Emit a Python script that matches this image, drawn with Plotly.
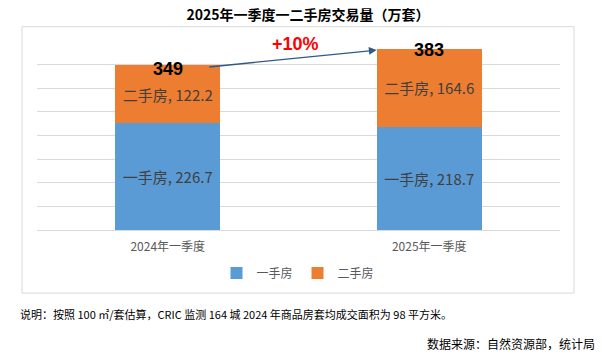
import plotly.graph_objects as go

categories = ["2024年一季度", "2025年一季度"]
series_names = ["一手房", "二手房"]
new_home = [226.7, 218.7]
second_home = [122.2, 164.6]
totals = [349, 383]
title_text = "2025年一季度一二手房交易量（万套）"
note_text = "说明：按照 100 ㎡/套估算，CRIC 监测 164 城 2024 年商品房套均成交面积为 98 平方米。"
source_text = "数据来源：自然资源部，统计局"

colors = ["#5B9BD5", "#ED7D31"]
cjk = "Noto Sans CJK SC, sans-serif"

fig = go.Figure()
for name, vals, col in zip(series_names, [new_home, second_home], colors):
    fig.add_trace(go.Bar(
        x=categories, y=vals, name=name, marker=dict(color=col, line=dict(width=0)),
        text=[f"{name}, {v}" for v in vals], textposition="inside",
        insidetextanchor="middle", textangle=0,
        textfont=dict(family=cjk, size=15, color="#404040"),
        hoverinfo="skip",
    ))

# plot-area pixel geometry (for placing paper-referenced items)
L, R, T, B = 37, 560, 41.3, 230
W, H = R - L, B - T
px = lambda x: (x - L) / W
py = lambda y: (B - y) / H

ann = []
for cat, tot, ys in zip(categories, totals, [-4, -1]):
    ann.append(dict(x=cat, y=tot, xref="x", yref="y", text=f"<b>{tot}</b>", showarrow=False,
                    yshift=ys, font=dict(family="Liberation Sans, Arial", size=18, color="#000000")))

# growth arrow
pct = round((totals[1] / totals[0] - 1) * 100)
ann.append(dict(x=0.799, y=totals[1] - 2.2, ax=0.153, ay=totals[0] - 4.3, xref="x", yref="y",
                axref="x", ayref="y", showarrow=True, arrowhead=2, arrowsize=1.2, arrowwidth=1.3,
                arrowcolor="#2E5A84", text="", standoff=0))
ann.append(dict(x=0.487, y=393, xref="x", yref="y", text=f"<b>+{pct}%</b>", showarrow=False,
                font=dict(family="Liberation Sans, Arial", size=18, color="#FF0000")))

ann.append(dict(x=px(18), y=py(314), xref="paper", yref="paper", xanchor="left", yanchor="middle",
                text=note_text, showarrow=False, font=dict(family=cjk, size=11, color="#000000")))
ann.append(dict(x=px(597), y=py(343), xref="paper", yref="paper", xanchor="right", yanchor="middle",
                text=source_text, showarrow=False, font=dict(family=cjk, size=12, color="#000000")))

fig.update_layout(
    width=607, height=356,
    margin=dict(l=L, r=607 - R, t=T, b=356 - B),
    paper_bgcolor="white", plot_bgcolor="white",
    barmode="stack", bargap=0.6,
    title=dict(text=f"<b>{title_text}</b>", x=308 / 607, xanchor="center", y=1 - 15 / 356,
               yanchor="middle", font=dict(family=cjk, size=14, color="#000000")),
    xaxis=dict(showgrid=False, showline=True, linecolor="#D9D9D9", linewidth=1, ticks="",
               ticklabelstandoff=6,
               tickfont=dict(family=cjk, size=12, color="#595959")),
    yaxis=dict(range=[0, 400], dtick=50, showgrid=True, gridcolor="#D9D9D9", gridwidth=1,
               showticklabels=False, zeroline=False, showline=False),
    legend=dict(orientation="h", x=px(298), xanchor="center", y=py(273), yanchor="middle",
                font=dict(family=cjk, size=12, color="#595959"), itemwidth=30,
                traceorder="normal"),
    annotations=ann,
    shapes=[dict(type="rect", xref="paper", yref="paper", x0=px(22), x1=px(574), y0=py(293),
                 y1=py(27), line=dict(color="#D9D9D9", width=1), fillcolor="rgba(0,0,0,0)",
                 layer="below")],
)

fig.write_html("out.html", config={"displayModeBar": False},
               post_script="document.body.style.margin='0';document.body.style.overflow='hidden';")
